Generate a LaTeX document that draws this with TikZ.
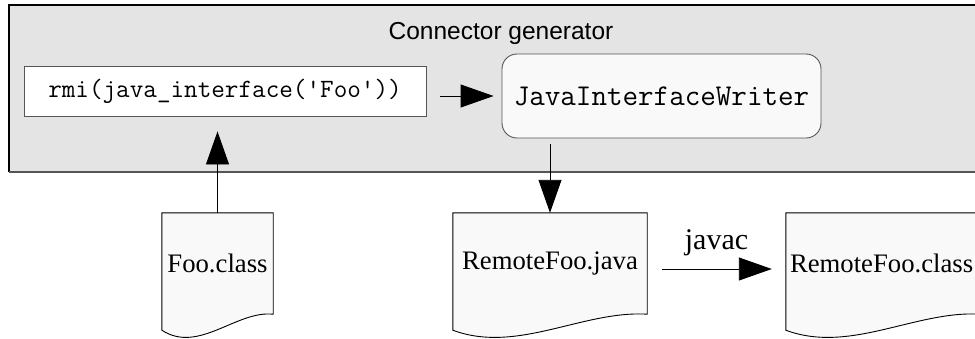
\documentclass[tikz,border=0pt]{standalone}
\usepackage{fontspec}
\setmainfont{Liberation Serif}
\setsansfont{Liberation Sans}
\usetikzlibrary{arrows.meta,calc}

\definecolor{panelgray}{HTML}{E4E4E4}
\definecolor{boxwhite}{HTML}{F9F9F9}
\definecolor{edgegray}{HTML}{555555}

\tikzset{
  panel/.style={fill=panelgray, draw=none, inner sep=0pt, minimum width=985pt, minimum height=167pt},
  panelttl/.style={font=\sffamily\fontsize{24.5}{28}\selectfont},
  codebox/.style={draw=edgegray, fill=white, line width=0.9pt, inner sep=0pt,
    minimum width=402pt, minimum height=50pt, font=\ttfamily\fontsize{26.4}{30}\selectfont},
  writerbox/.style={draw=edgegray, fill=boxwhite, line width=0.9pt, rounded corners=15pt, inner sep=0pt,
    minimum width=319pt, minimum height=84pt, font=\ttfamily\fontsize{30.2}{34}\selectfont},
  docbox/.style={inner sep=0pt, minimum height=101pt, font=\fontsize{26.7}{30}\selectfont},
  docline/.style={draw=black, fill=boxwhite, line width=0.9pt},
  arr/.style={line width=0.9pt, -{Triangle[length=33pt,width=23pt]}},
}

\begin{document}
\begin{tikzpicture}[x=1pt,y=-1pt]
  \path[use as bounding box, clip] (0,0) rectangle (975,338);

  % generator panel
  \node[panel, anchor=north west] (gen) at (9,5) {};
  \draw[line width=1.2pt] (gen.south west) -- (gen.north west) -- (gen.north east);
  \draw[edgegray, line width=2pt] (gen.south west) -- (gen.south east);
  \node[panelttl] (gentitle) at (501,33) {Connector generator};

  % boxes inside the generator
  \node[codebox] (rmi) at (225,91) {rmi(java\_interface('Foo'))};
  \node[writerbox] (jiw) at (661.5,96) {JavaInterfaceWriter};

  % document nodes
  \node[docbox, minimum width=111pt] (foo) at (217.5,263.5) {};
  \node[docbox, minimum width=194pt] (rjava) at (550,263.5) {};
  \node[docbox, minimum width=194pt] (rclass) at (883,263.5) {};

  % page outlines with a wavy lower edge
  \foreach \n in {foo,rjava,rclass} {
    \path[docline] (\n.north west) -- (\n.north east) -- (\n.south east)
      .. controls ($(\n.south west)!0.67!(\n.south east)+(0,-4)$)
      and ($(\n.south west)!0.33!(\n.south east)+(0,40)$)
      .. ($(\n.south west)+(0,16)$) -- cycle;
  }
  \node[docbox, minimum width=111pt] at (foo) {Foo.class};
  \node[docbox, minimum width=194pt] at (rjava) {RemoteFoo.java};
  \node[docbox, anchor=west] at ($(rclass.west)+(4,0)$) {RemoteFoo.class};

  % connectors
  \draw[arr, shorten >=15pt] (foo.north) -- (foo.north |- rmi.south);
  \draw[arr, shorten <=14pt, shorten >=8pt] (rmi.east |- jiw.west) -- (jiw.west);
  \draw[arr, shorten <=6pt] (rjava.north |- jiw.south) -- (rjava.north);
  \draw[arr, shorten <=15pt, shorten >=14pt] ($(rjava.east)+(0,5.5)$) -- ($(rclass.west)+(0,5.5)$)
    node[midway, above, inner sep=0pt, yshift=13pt, font=\fontsize{30}{32}\selectfont] (javaclbl) {javac};
\end{tikzpicture}
\end{document}
